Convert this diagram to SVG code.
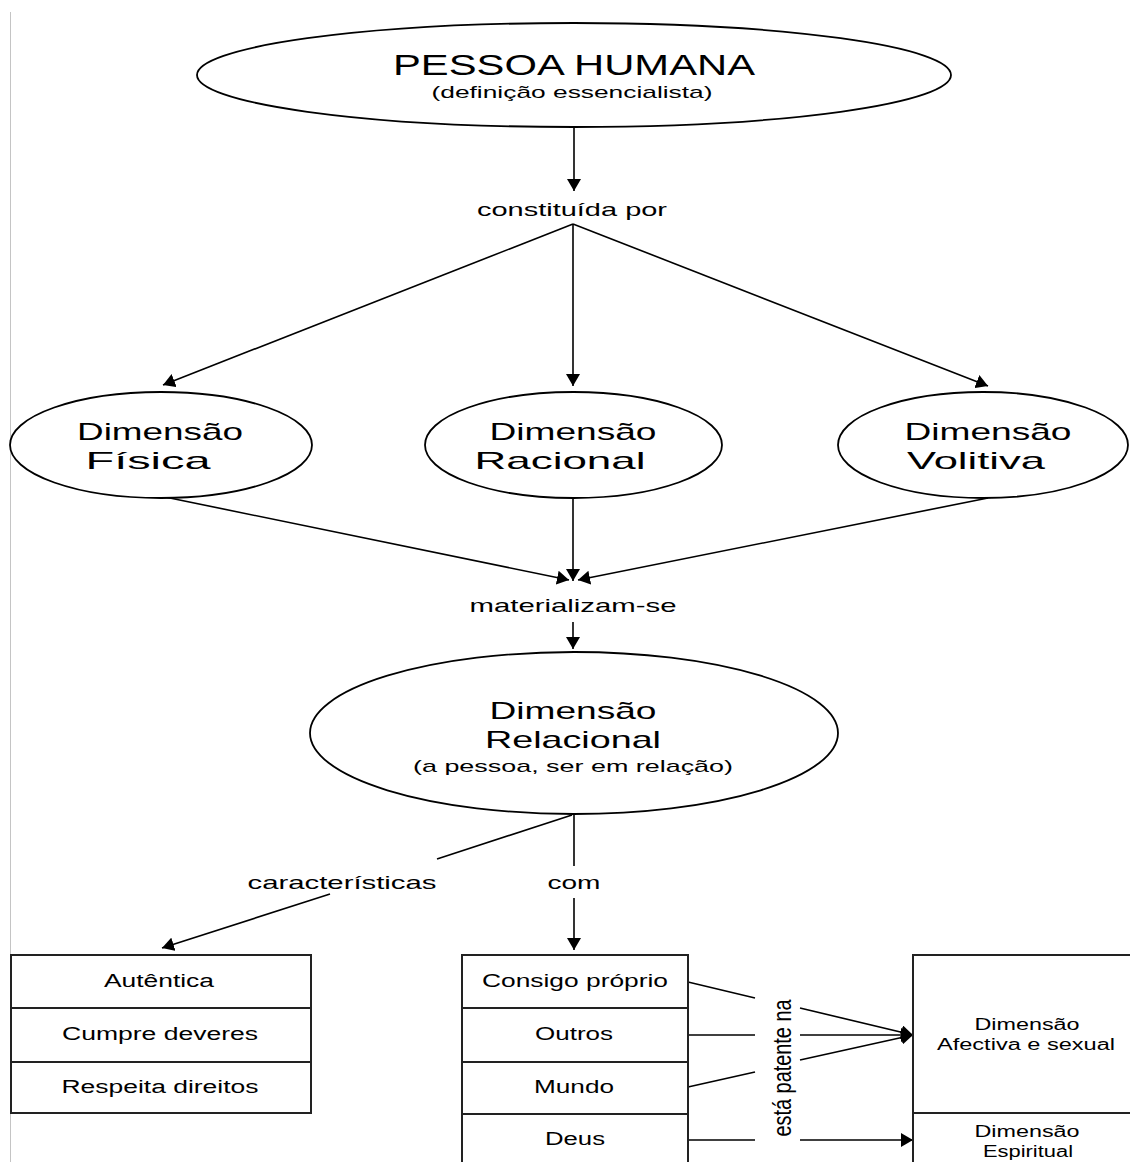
<svg xmlns="http://www.w3.org/2000/svg" width="1130" height="1162" viewBox="0 0 1130 1162">
<style>
text{font-family:"Liberation Sans",Arial,sans-serif;fill:#000;text-anchor:middle}
.e{fill:#fff;stroke:#000;stroke-width:1.8}
.b{fill:#fff;stroke:#222;stroke-width:2}
.c{stroke:#000;stroke-width:1.6;fill:none}
.a{marker-end:url(#ah)}
</style>
<defs>
<marker id="ah" viewBox="0 0 12 14" refX="12" refY="7" markerWidth="12" markerHeight="14" markerUnits="userSpaceOnUse" orient="auto">
<path d="M0,0 L12,7 L0,14 z" fill="#000"/>
</marker>
</defs>
<rect width="1130" height="1162" fill="#fff"/>
<line x1="10.5" y1="12" x2="10.5" y2="1162" stroke="#c4c4c4" stroke-width="1"/>

<g id="connectors">
<line class="c a" x1="574" y1="127" x2="574" y2="191"/>
<line class="c a" x1="573" y1="224" x2="163" y2="385"/>
<line class="c a" x1="573" y1="224" x2="573" y2="386"/>
<line class="c a" x1="573" y1="224" x2="988" y2="386"/>
<line class="c a" x1="165" y1="497" x2="569" y2="580"/>
<line class="c a" x1="573" y1="498" x2="573" y2="581"/>
<line class="c a" x1="988" y1="498" x2="578" y2="580"/>
<line class="c a" x1="573" y1="622" x2="573" y2="649"/>
<line class="c" x1="574" y1="814" x2="574" y2="866"/>
<line class="c a" x1="574" y1="898" x2="574" y2="950"/>
<line class="c" x1="572" y1="815" x2="437" y2="859"/>
<line class="c a" x1="330" y1="894" x2="162" y2="948"/>
<line class="c" x1="688" y1="982" x2="755" y2="998"/>
<line class="c a" x1="800" y1="1008" x2="913" y2="1035"/>
<line class="c" x1="688" y1="1035" x2="755" y2="1035"/>
<line class="c a" x1="800" y1="1035" x2="913" y2="1035"/>
<line class="c" x1="688" y1="1087" x2="755" y2="1072"/>
<line class="c a" x1="800" y1="1060" x2="913" y2="1035"/>
<line class="c" x1="688" y1="1140" x2="755" y2="1140"/>
<line class="c a" x1="800" y1="1140" x2="913" y2="1140"/>
</g>

<g id="n-pessoa">
<ellipse class="e" cx="574" cy="75" rx="377" ry="52"/>
<text x="574" y="75" font-size="29" textLength="362" lengthAdjust="spacingAndGlyphs">PESSOA HUMANA</text>
<text x="572" y="98" font-size="17" textLength="281" lengthAdjust="spacingAndGlyphs">(definição essencialista)</text>
</g>
<g id="l-constituida">
<text x="572" y="216" font-size="19" textLength="190" lengthAdjust="spacingAndGlyphs">constituída por</text>
</g>
<g id="n-fisica">
<ellipse class="e" cx="161" cy="445" rx="151" ry="53"/>
<text x="160" y="440" font-size="24" textLength="166" lengthAdjust="spacingAndGlyphs">Dimensão</text>
<text x="148" y="469" font-size="24" textLength="125" lengthAdjust="spacingAndGlyphs">Física</text>
</g>
<g id="n-racional">
<ellipse class="e" cx="573.5" cy="445" rx="148.5" ry="53"/>
<text x="573" y="440" font-size="24" textLength="167" lengthAdjust="spacingAndGlyphs">Dimensão</text>
<text x="560" y="469" font-size="24" textLength="171" lengthAdjust="spacingAndGlyphs">Racional</text>
</g>
<g id="n-volitiva">
<ellipse class="e" cx="983" cy="445" rx="145" ry="53"/>
<text x="988" y="440" font-size="24" textLength="167" lengthAdjust="spacingAndGlyphs">Dimensão</text>
<text x="976" y="469" font-size="24" textLength="138" lengthAdjust="spacingAndGlyphs">Volitiva</text>
</g>
<g id="l-materializam">
<text x="573" y="612" font-size="19" textLength="207" lengthAdjust="spacingAndGlyphs">materializam-se</text>
</g>
<g id="n-relacional">
<ellipse class="e" cx="574" cy="733" rx="264" ry="81"/>
<text x="573" y="719" font-size="24" textLength="167" lengthAdjust="spacingAndGlyphs">Dimensão</text>
<text x="573" y="748" font-size="24" textLength="176" lengthAdjust="spacingAndGlyphs">Relacional</text>
<text x="573" y="772" font-size="17" textLength="320" lengthAdjust="spacingAndGlyphs">(a pessoa, ser em relação)</text>
</g>
<g id="l-caracteristicas">
<text x="342" y="889" font-size="19" textLength="189" lengthAdjust="spacingAndGlyphs">características</text>
</g>
<g id="l-com">
<text x="574" y="889" font-size="19" textLength="53" lengthAdjust="spacingAndGlyphs">com</text>
</g>
<g id="n-caracteristicas-box">
<rect class="b" x="11" y="955" width="300" height="158"/>
<line class="b" x1="11" y1="1008" x2="311" y2="1008"/>
<line class="b" x1="11" y1="1062" x2="311" y2="1062"/>
<text x="159" y="987" font-size="18" textLength="110" lengthAdjust="spacingAndGlyphs">Autêntica</text>
<text x="160" y="1040" font-size="18" textLength="196" lengthAdjust="spacingAndGlyphs">Cumpre deveres</text>
<text x="160" y="1093" font-size="18" textLength="197" lengthAdjust="spacingAndGlyphs">Respeita direitos</text>
</g>
<g id="n-com-box">
<rect class="b" x="462" y="955" width="226" height="230"/>
<line class="b" x1="462" y1="1008" x2="688" y2="1008"/>
<line class="b" x1="462" y1="1062" x2="688" y2="1062"/>
<line class="b" x1="462" y1="1114" x2="688" y2="1114"/>
<text x="575" y="987" font-size="18" textLength="186" lengthAdjust="spacingAndGlyphs">Consigo próprio</text>
<text x="574" y="1040" font-size="18" textLength="78" lengthAdjust="spacingAndGlyphs">Outros</text>
<text x="574" y="1093" font-size="18" textLength="80" lengthAdjust="spacingAndGlyphs">Mundo</text>
<text x="575" y="1145" font-size="18" textLength="60" lengthAdjust="spacingAndGlyphs">Deus</text>
</g>
<g id="n-dimensoes-box">
<rect class="b" x="913" y="955" width="240" height="230"/>
<line class="b" x1="913" y1="1113" x2="1140" y2="1113"/>
<text x="1027" y="1030" font-size="16" textLength="105" lengthAdjust="spacingAndGlyphs">Dimensão</text>
<text x="1026" y="1050" font-size="16" textLength="178" lengthAdjust="spacingAndGlyphs">Afectiva e sexual</text>
<text x="1027" y="1137" font-size="16" textLength="105" lengthAdjust="spacingAndGlyphs">Dimensão</text>
<text x="1028" y="1157" font-size="16" textLength="90" lengthAdjust="spacingAndGlyphs">Espiritual</text>
</g>
<g id="l-patente">
<text transform="translate(791,1068) rotate(-90)" x="0" y="0" font-size="26" textLength="137" lengthAdjust="spacingAndGlyphs">está patente na</text>
</g>
</svg>
